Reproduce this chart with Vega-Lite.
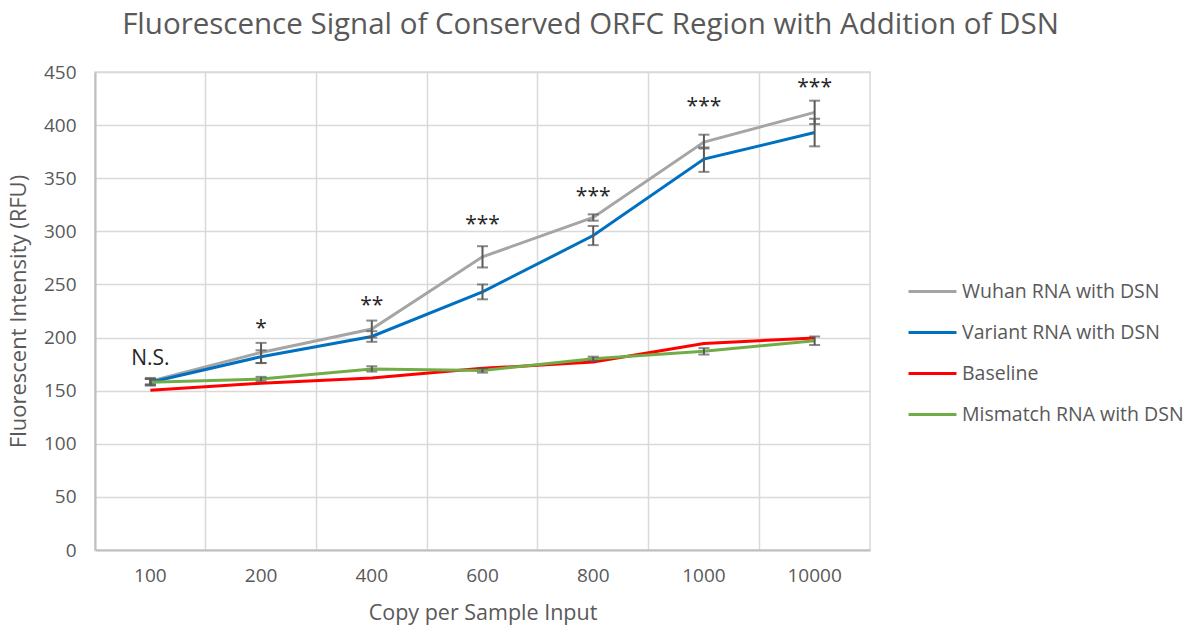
{
  "$schema": "https://vega.github.io/schema/vega-lite/v6.json",
  "width": 775,
  "height": 478,
  "autosize": "none",
  "padding": {"left": 95, "top": 72, "right": 318, "bottom": 78},
  "background": "white",
  "config": {
    "font": "Open Sans",
    "view": {"stroke": "#d9d9d9", "strokeWidth": 1.5}
  },
  "title": {
    "text": "Fluorescence Signal of Conserved ORFC Region with Addition of DSN",
    "font": "Open Sans",
    "fontSize": 29.5,
    "fontWeight": "normal",
    "color": "#595959",
    "anchor": "middle",
    "frame": "group",
    "dx": 108,
    "offset": 23
  },
  "datasets": {
    "series": [
      {"series": "Wuhan RNA with DSN", "copies": "100", "value": 159, "lo": 156, "hi": 162},
      {"series": "Wuhan RNA with DSN", "copies": "200", "value": 186, "lo": 176, "hi": 195},
      {"series": "Wuhan RNA with DSN", "copies": "400", "value": 208, "lo": 200, "hi": 216},
      {"series": "Wuhan RNA with DSN", "copies": "600", "value": 276, "lo": 266, "hi": 286},
      {"series": "Wuhan RNA with DSN", "copies": "800", "value": 313, "lo": 310, "hi": 316},
      {"series": "Wuhan RNA with DSN", "copies": "1000", "value": 384, "lo": 378, "hi": 391},
      {"series": "Wuhan RNA with DSN", "copies": "10000", "value": 412, "lo": 401, "hi": 423},
      {"series": "Variant RNA with DSN", "copies": "100", "value": 158, "lo": 155, "hi": 161},
      {"series": "Variant RNA with DSN", "copies": "200", "value": 182, "lo": 176, "hi": 188},
      {"series": "Variant RNA with DSN", "copies": "400", "value": 201, "lo": 196, "hi": 206},
      {"series": "Variant RNA with DSN", "copies": "600", "value": 243, "lo": 236, "hi": 250},
      {"series": "Variant RNA with DSN", "copies": "800", "value": 296, "lo": 287, "hi": 305},
      {"series": "Variant RNA with DSN", "copies": "1000", "value": 368, "lo": 356, "hi": 379},
      {"series": "Variant RNA with DSN", "copies": "10000", "value": 393, "lo": 380, "hi": 406},
      {"series": "Baseline", "copies": "100", "value": 150.5},
      {"series": "Baseline", "copies": "200", "value": 157},
      {"series": "Baseline", "copies": "400", "value": 162},
      {"series": "Baseline", "copies": "600", "value": 171},
      {"series": "Baseline", "copies": "800", "value": 177},
      {"series": "Baseline", "copies": "1000", "value": 194.5},
      {"series": "Baseline", "copies": "10000", "value": 199.5},
      {"series": "Mismatch RNA with DSN", "copies": "100", "value": 158, "lo": 155, "hi": 161},
      {"series": "Mismatch RNA with DSN", "copies": "200", "value": 161, "lo": 159, "hi": 163},
      {"series": "Mismatch RNA with DSN", "copies": "400", "value": 170.5, "lo": 168, "hi": 173},
      {"series": "Mismatch RNA with DSN", "copies": "600", "value": 169, "lo": 167, "hi": 171},
      {"series": "Mismatch RNA with DSN", "copies": "800", "value": 180, "lo": 178, "hi": 182},
      {"series": "Mismatch RNA with DSN", "copies": "1000", "value": 187, "lo": 184, "hi": 190},
      {"series": "Mismatch RNA with DSN", "copies": "10000", "value": 197, "lo": 193, "hi": 201}
    ],
    "notes": [
      {"copies": "100", "label": "N.S.", "value": 180},
      {"copies": "200", "label": "*", "value": 208},
      {"copies": "400", "label": "**", "value": 230},
      {"copies": "600", "label": "***", "value": 306},
      {"copies": "800", "label": "***", "value": 332},
      {"copies": "1000", "label": "***", "value": 417},
      {"copies": "10000", "label": "***", "value": 435}
    ]
  },
  "encoding": {
    "x": {
      "field": "copies",
      "type": "ordinal",
      "sort": ["100", "200", "400", "600", "800", "1000", "10000"],
      "scale": {"type": "band", "paddingInner": 0, "paddingOuter": 0},
      "axis": {
        "title": "Copy per Sample Input",
        "titleFont": "Open Sans",
        "titleFontSize": 21.5,
        "titleFontWeight": "normal",
        "titleColor": "#595959",
        "titlePadding": 17,
        "labelFont": "Open Sans",
        "labelFontSize": 19,
        "labelColor": "#595959",
        "labelAngle": 0,
        "labelPadding": 16,
        "bandPosition": 0,
        "ticks": false,
        "grid": true,
        "gridColor": "#d9d9d9",
        "gridWidth": 1.5,
        "domainColor": "#bfbfbf",
        "domainWidth": 2
      }
    }
  },
  "layer": [
    {
      "data": {"name": "series"},
      "mark": {"type": "line", "strokeWidth": 3},
      "encoding": {
        "y": {
          "field": "value",
          "type": "quantitative",
          "scale": {"domain": [0, 450], "nice": false},
          "axis": {
            "title": "Fluorescent Intensity (RFU)",
            "titleFont": "Open Sans",
            "titleFontSize": 22,
            "titleFontWeight": "normal",
            "titleColor": "#595959",
            "titlePadding": 13,
            "labelFont": "Open Sans",
            "labelFontSize": 19,
            "labelColor": "#595959",
            "labelPadding": 19,
            "values": [0, 50, 100, 150, 200, 250, 300, 350, 400, 450],
            "ticks": false,
            "grid": true,
            "gridColor": "#d9d9d9",
            "gridWidth": 1.5,
            "domainColor": "#bfbfbf",
            "domainWidth": 2
          }
        },
        "color": {
          "field": "series",
          "type": "nominal",
          "scale": {
            "domain": ["Wuhan RNA with DSN", "Variant RNA with DSN", "Baseline", "Mismatch RNA with DSN"],
            "range": ["#a5a5a5", "#0070c0", "#ff0000", "#70ad47"]
          },
          "legend": {
            "title": null,
            "orient": "none",
            "legendX": 812,
            "legendY": 194,
            "symbolType": "stroke",
            "symbolSize": 2300,
            "symbolStrokeWidth": 3,
            "labelFont": "Open Sans",
            "labelFontSize": 19.5,
            "labelColor": "#595959",
            "labelOffset": 4,
            "rowPadding": 6,
            "labelLimit": 300
          }
        },
        "order": {"value": 0}
      }
    },
    {
      "data": {"name": "series"},
      "transform": [{"filter": "isValid(datum.lo)"}],
      "mark": {"type": "rule", "color": "#595959", "strokeWidth": 2},
      "encoding": {
        "y": {"field": "lo", "type": "quantitative"},
        "y2": {"field": "hi"}
      }
    },
    {
      "data": {"name": "series"},
      "transform": [{"filter": "isValid(datum.lo)"}],
      "mark": {"type": "tick", "color": "#595959", "thickness": 2, "size": 11, "orient": "horizontal"},
      "encoding": {
        "y": {"field": "lo", "type": "quantitative"}
      }
    },
    {
      "data": {"name": "series"},
      "transform": [{"filter": "isValid(datum.hi)"}],
      "mark": {"type": "tick", "color": "#595959", "thickness": 2, "size": 11, "orient": "horizontal"},
      "encoding": {
        "y": {"field": "hi", "type": "quantitative"}
      }
    },
    {
      "data": {"name": "notes"},
      "mark": {"type": "text", "font": "Open Sans", "fontSize": 21, "color": "#262626", "baseline": "middle", "align": "center"},
      "encoding": {
        "y": {"field": "value", "type": "quantitative"},
        "text": {"field": "label"}
      }
    }
  ]
}
